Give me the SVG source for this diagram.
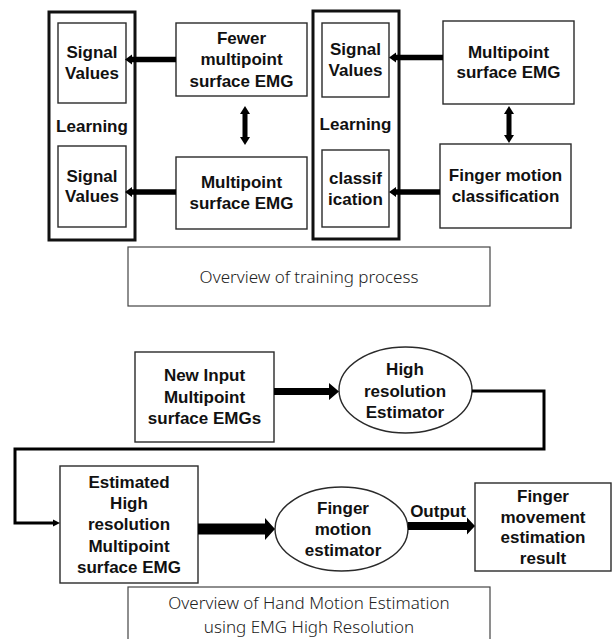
<svg xmlns="http://www.w3.org/2000/svg" width="613" height="639" viewBox="0 0 613 639">
<style>
.bg{fill:#fff}
.box{fill:#fff;stroke:#2a2a2a;stroke-width:1.4}
.outer{fill:#fff;stroke:#111;stroke-width:3}
.cap{fill:#fff;stroke:#444;stroke-width:1.2}
.t{font-family:"Liberation Sans",Arial,sans-serif;font-weight:700;font-size:17px;fill:#111;text-anchor:middle}
.c{font-family:"Noto Sans","Open Sans",sans-serif;font-weight:300;font-size:17px;fill:#222;text-anchor:middle}
.ah{fill:#000}
.ln{fill:none;stroke:#000;stroke-width:3}
</style>
<rect class="bg" width="613" height="639"/>
<g id="learning-left">
<rect class="outer" x="49" y="12" width="86" height="228"/>
<text class="t" x="92" y="132">Learning</text>
</g>
<g id="signal-values-1">
<rect class="box" x="58" y="23" width="68" height="80"/>
<text class="t" x="92" y="58">Signal</text>
<text class="t" x="92" y="79">Values</text>
</g>
<g id="signal-values-2">
<rect class="box" x="58" y="146" width="68" height="81"/>
<text class="t" x="92" y="182">Signal</text>
<text class="t" x="92" y="202">Values</text>
</g>
<g id="fewer-emg">
<rect class="box" x="176" y="23" width="131" height="73"/>
<text class="t" x="241.5" y="44">Fewer</text>
<text class="t" x="241.5" y="65">multipoint</text>
<text class="t" x="241.5" y="87">surface EMG</text>
</g>
<g id="multipoint-emg-left">
<rect class="box" x="176" y="157" width="131" height="72"/>
<text class="t" x="241.5" y="188">Multipoint</text>
<text class="t" x="241.5" y="209">surface EMG</text>
</g>
<g id="learning-right">
<rect class="outer" x="313" y="11" width="86" height="228"/>
<text class="t" x="355.5" y="130">Learning</text>
</g>
<g id="signal-values-3">
<rect class="box" x="322" y="23" width="67" height="74"/>
<text class="t" x="355.5" y="55">Signal</text>
<text class="t" x="355.5" y="76">Values</text>
</g>
<g id="classification-inner">
<rect class="box" x="322" y="150" width="67" height="77"/>
<text class="t" x="355.5" y="184">classif</text>
<text class="t" x="355.5" y="205">ication</text>
</g>
<g id="multipoint-emg-right">
<rect class="box" x="443" y="21" width="131" height="83"/>
<text class="t" x="508.5" y="58">Multipoint</text>
<text class="t" x="508.5" y="78">surface EMG</text>
</g>
<g id="finger-motion-classification">
<rect class="box" x="440" y="144" width="131" height="84"/>
<text class="t" x="505.5" y="181">Finger motion</text>
<text class="t" x="505.5" y="202">classification</text>
</g>
<g id="caption-training">
<rect class="cap" x="128" y="247" width="362" height="59"/>
<text class="c" x="309" y="283">Overview of training process</text>
</g>
<g id="new-input">
<rect class="box" x="135" y="352" width="139" height="90"/>
<text class="t" x="204.5" y="381">New Input</text>
<text class="t" x="204.5" y="403">Multipoint</text>
<text class="t" x="204.5" y="424">surface EMGs</text>
</g>
<g id="high-res-estimator">
<ellipse class="box" cx="405.5" cy="390" rx="66.5" ry="43"/>
<text class="t" x="405" y="375">High</text>
<text class="t" x="405" y="397">resolution</text>
<text class="t" x="405" y="418">Estimator</text>
</g>
<g id="estimated-emg">
<rect class="box" x="60" y="466" width="138" height="117"/>
<text class="t" x="129" y="488">Estimated</text>
<text class="t" x="129" y="509">High</text>
<text class="t" x="129" y="530">resolution</text>
<text class="t" x="129" y="552">Multipoint</text>
<text class="t" x="129" y="573">surface EMG</text>
</g>
<g id="finger-motion-estimator">
<ellipse class="box" cx="341.5" cy="529" rx="66.5" ry="42"/>
<text class="t" x="343" y="514">Finger</text>
<text class="t" x="343" y="535">motion</text>
<text class="t" x="343" y="556">estimator</text>
</g>
<g id="finger-movement-result">
<rect class="box" x="475" y="483" width="136" height="88"/>
<text class="t" x="543" y="502">Finger</text>
<text class="t" x="543" y="523">movement</text>
<text class="t" x="543" y="543">estimation</text>
<text class="t" x="543" y="564">result</text>
</g>
<g id="caption-estimation">
<rect class="cap" x="128" y="587" width="362" height="60"/>
<text class="c" x="309" y="609">Overview of Hand Motion Estimation</text>
<text class="c" x="309" y="633">using EMG High Resolution</text>
</g>
<g id="connectors">
<polygon class="ah" points="176,56.8 132,56.8 132,54.5 125,59.5 132,64.5 132,62.2 176,62.2"/>
<polygon class="ah" points="176,189.3 132,189.3 132,187 125,192 132,197 132,194.7 176,194.7"/>
<polygon class="ah" points="443,54.8 396,54.8 396,52.5 389,57.5 396,62.5 396,60.2 443,60.2"/>
<polygon class="ah" points="440,189.3 396,189.3 396,187 389,192 396,197 396,194.7 440,194.7"/>
<polygon class="ah" points="245,106 250,114 247.5,114 247.5,137 250,137 245,145 240,137 242.5,137 242.5,114 240,114"/>
<polygon class="ah" points="509,106 514,114 511.5,114 511.5,135 514,135 509,143 504,135 506.5,135 506.5,114 504,114"/>
<polygon class="ah" points="274,388 329,388 329,383 339,391.5 329,400 329,395 274,395"/>
<polygon class="ah" points="198,523.5 265,523.5 265,518 275,529 265,540 265,534.5 198,534.5"/>
<polygon class="ah" points="408,522 467,522 467,517.5 475,526 467,534.5 467,530 408,530"/>
<path class="ln" d="M472,391 H544 V449 H15 V523 H54"/>
<polygon class="ah" points="53,519.5 60,523 53,526.5"/>
<text class="t" x="438" y="517">Output</text>
</g>
</svg>
